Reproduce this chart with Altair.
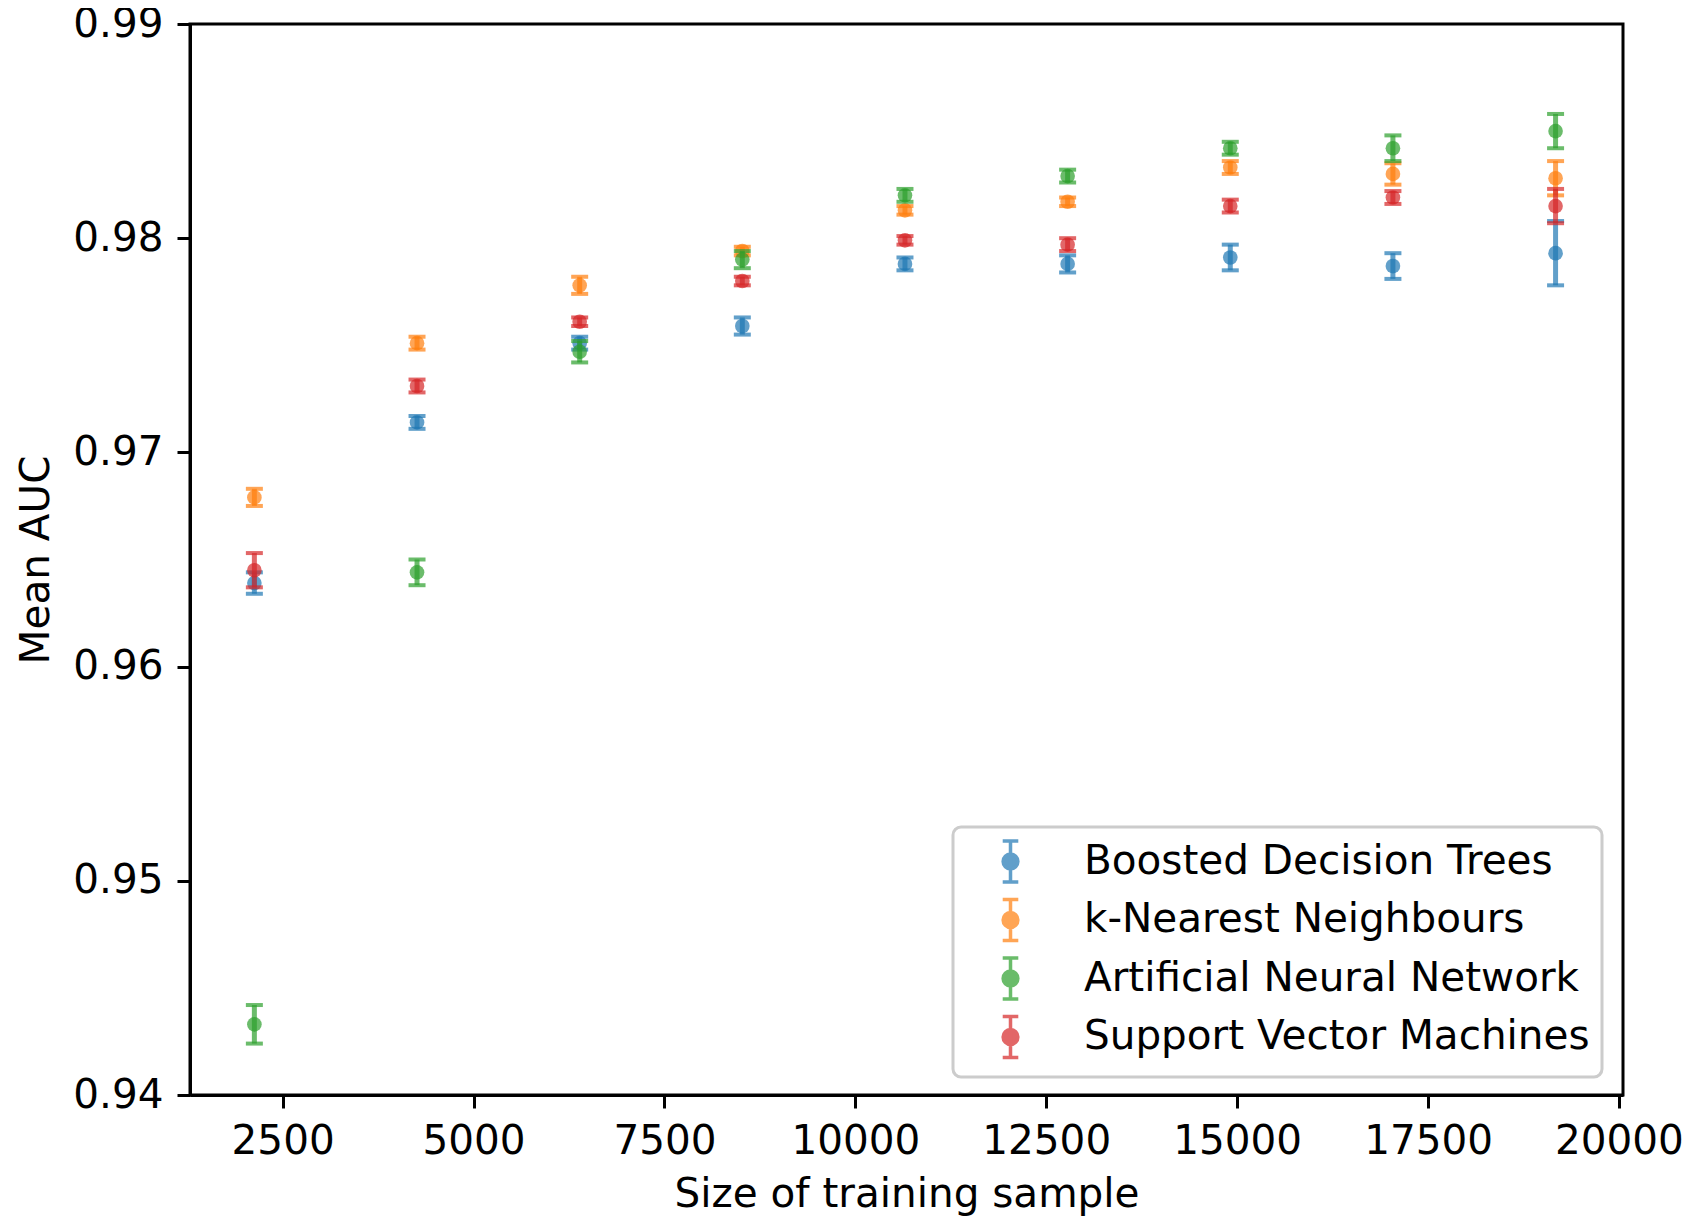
import altair as alt
import pandas as pd

series_names = ["Boosted Decision Trees", "k-Nearest Neighbours",
                "Artificial Neural Network", "Support Vector Machines"]
series_colors = ["#1f77b4", "#ff7f0e", "#2ca02c", "#d62728"]

sample_sizes = [2130, 4260, 6390, 8520, 10650, 12780, 14910, 17040, 19170]

bdt_mean = [0.9639, 0.9714, 0.9751, 0.9759, 0.9788, 0.9788, 0.9791, 0.9787, 0.9793]
bdt_err = [0.0005, 0.0003, 0.0003, 0.0004, 0.0003, 0.0004, 0.0006, 0.0006, 0.0015]
knn_mean = [0.9679, 0.9751, 0.9778, 0.9794, 0.9813, 0.9817, 0.9833, 0.9830, 0.9828]
knn_err = [0.0004, 0.0003, 0.0004, 0.0002, 0.0002, 0.0002, 0.0003, 0.0005, 0.0008]
ann_mean = [0.9433, 0.9644, 0.9747, 0.9790, 0.9820, 0.9829, 0.9842, 0.9842, 0.9850]
ann_err = [0.0009, 0.0006, 0.0005, 0.0004, 0.0003, 0.0003, 0.0003, 0.0006, 0.0008]
svm_mean = [0.9645, 0.9731, 0.9761, 0.9780, 0.9799, 0.9797, 0.9815, 0.9819, 0.9815]
svm_err = [0.0008, 0.0003, 0.0002, 0.0002, 0.0002, 0.0003, 0.0003, 0.0003, 0.0008]

x_ticks = [2500, 5000, 7500, 10000, 12500, 15000, 17500, 20000]
y_ticks = [0.94, 0.95, 0.96, 0.97, 0.98, 0.99]

means = [bdt_mean, knn_mean, ann_mean, svm_mean]
errs = [bdt_err, knn_err, ann_err, svm_err]

rows = []
for name, m, e in zip(series_names, means, errs):
    for x, mv, ev in zip(sample_sizes, m, e):
        rows.append({"model": name, "size": x, "auc": mv,
                     "lo": mv - ev, "hi": mv + ev})
df = pd.DataFrame(rows)

FONT = "DejaVu Sans"
FS = 40.5

x_scale = alt.Scale(domain=[1287, 20053], nice=False, zero=False)
y_scale = alt.Scale(domain=[0.94, 0.99], nice=False, zero=False)

sym_path = ("M0,-1L0,1M-0.38,-1L0.38,-1M-0.38,1L0.38,1"
            "M0.36,0A0.36,0.36,0,1,1,-0.36,0A0.36,0.36,0,1,1,0.36,0Z")

color = alt.Color(
    "model:N",
    scale=alt.Scale(domain=series_names, range=series_colors),
    sort=series_names,
    legend=alt.Legend(
        title=None, orient="none", legendX=763, legendY=803,
        symbolType=sym_path, symbolSize=1681, symbolStrokeWidth=3.5,
        symbolOpacity=0.7, labelLimit=0,
        labelFont=FONT, labelFontSize=FS, labelColor="black",
        padding=12, rowPadding=3.5, symbolOffset=23, labelOffset=51,
        strokeColor="#cccccc", fillColor="rgba(255,255,255,0.8)",
        cornerRadius=8,
    ),
)

x_enc = alt.X("size:Q", scale=x_scale, title="Size of training sample",
              axis=alt.Axis(values=x_ticks, format="d", grid=False))

layers = []
for name in series_names:
    base = alt.Chart(df).transform_filter(alt.datum.model == name)
    rule = base.mark_rule(strokeWidth=5, opacity=0.7).encode(
        x=x_enc,
        y=alt.Y("lo:Q", scale=y_scale, title="Mean AUC",
                axis=alt.Axis(values=y_ticks, format=".2f", grid=False)),
        y2="hi:Q", color=color)
    cap_lo = base.mark_tick(orient="horizontal", size=17, thickness=4,
                            opacity=0.7).encode(x=x_enc, y=alt.Y("lo:Q", scale=y_scale),
                                                color=color)
    cap_hi = base.mark_tick(orient="horizontal", size=17, thickness=4,
                            opacity=0.7).encode(x=x_enc, y=alt.Y("hi:Q", scale=y_scale),
                                                color=color)
    pts = base.mark_point(filled=True, shape="circle", size=215,
                          opacity=0.7).encode(x=x_enc, y=alt.Y("auc:Q", scale=y_scale),
                                              color=color)
    layers += [rule, cap_lo, cap_hi, pts]

chart = alt.layer(*layers).properties(
    width=1433, height=1071,
    autosize=alt.AutoSizeParams(type="none"),
    padding={"left": 182, "top": 16, "right": 60, "bottom": 121},
).configure_view(
    stroke="black", strokeWidth=3
).configure_axis(
    labelFont=FONT, labelFontSize=FS, labelColor="black",
    titleFont=FONT, titleFontSize=FS, titleFontWeight="normal", titleColor="black",
    tickColor="black", tickWidth=3, tickSize=13,
    domainColor="black", domainWidth=3,
).configure_axisY(
    labelPadding=14, titlePadding=15
).configure_axisX(
    labelPadding=13, titlePadding=13
).configure_legend(
    strokeWidth=3
)

chart.save("out.html", embed_options={"renderer": "svg", "actions": False})
